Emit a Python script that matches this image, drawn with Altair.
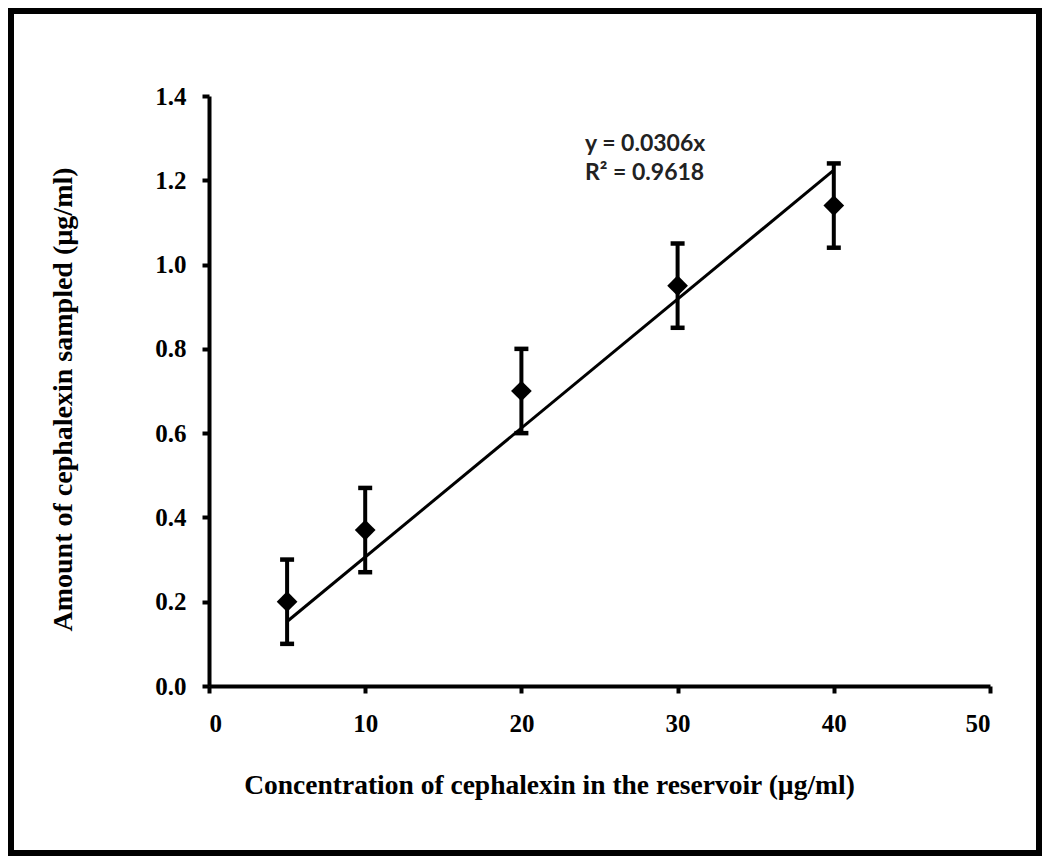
import altair as alt
import pandas as pd

# ---- data ----
conc = [5, 10, 20, 30, 40]
amount = [0.20, 0.37, 0.70, 0.95, 1.14]
err = [0.10, 0.10, 0.10, 0.10, 0.10]
trend_x = [5, 40]
slope = 0.0306
eq_lines = ["y = 0.0306x", "R² = 0.9618"]
x_ticks = [0, 10, 20, 30, 40, 50]
y_ticks = [0.0, 0.2, 0.4, 0.6, 0.8, 1.0, 1.2, 1.4]
x_title = "Concentration of cephalexin in the reservoir (µg/ml)"
y_title = "Amount of cephalexin sampled (µg/ml)"

df = pd.DataFrame({"conc": conc, "amount": amount, "err": err})
df["lo"] = df["amount"] - df["err"]
df["hi"] = df["amount"] + df["err"]
trend = pd.DataFrame({"conc": trend_x})

W, H = 781, 590
PL, PT, PR, PB = 201, 88, 52, 170

SERIF = "Liberation Serif"

xs = alt.Scale(domain=[0, 50], nice=False, zero=True)
ys = alt.Scale(domain=[0, 1.4], nice=False, zero=True)

x_axis = alt.Axis(values=x_ticks, title=x_title, format="d",
                  labelFontSize=25, labelPadding=18,
                  titleX=340, titleY=99, titleFontSize=27.5,
                  titleBaseline="middle", titleAlign="center")
y_axis = alt.Axis(values=y_ticks, title=y_title, format=".1f",
                  labelFontSize=25, labelPadding=16,
                  titleX=-146, titleY=303, titleFontSize=28,
                  titleAngle=-90, titleBaseline="middle", titleAlign="center")

base = alt.Chart(df)

bars = base.mark_rule(color="black", strokeWidth=4).encode(
    x=alt.X("conc:Q", scale=xs, axis=x_axis),
    y=alt.Y("lo:Q", scale=ys, axis=y_axis),
    y2="hi:Q",
)
cap_lo = base.mark_tick(color="black", thickness=4.5, size=14, orient="horizontal", opacity=1).encode(
    x="conc:Q", y="lo:Q")
cap_hi = base.mark_tick(color="black", thickness=4.5, size=14, orient="horizontal", opacity=1).encode(
    x="conc:Q", y="hi:Q")
pts = base.mark_point(shape="diamond", filled=True, color="black", size=430, opacity=1).encode(
    x="conc:Q", y="amount:Q")

line = alt.Chart(trend).transform_calculate(
    fit=f"datum.conc * {slope}"
).mark_line(color="black", strokeWidth=3).encode(x="conc:Q", y="fit:Q")

text_layers = []
for i, t in enumerate(eq_lines):
    text_layers.append(
        alt.Chart(pd.DataFrame({"line": [t]})).mark_text(
            align="left", baseline="middle", font="Lato", fontSize=23,
            fontWeight="bold", color="#222"
        ).encode(text="line:N", x=alt.value(376), y=alt.value(48 + 29 * i))
    )

border = alt.Chart(pd.DataFrame({"a": [0]})).mark_rect(
    fillOpacity=0, stroke="black", strokeWidth=6
).encode(
    x=alt.value(-PL + 3), x2=alt.value(W + PR - 3),
    y=alt.value(-PT + 3), y2=alt.value(H + PB - 3),
)

chart = alt.layer(bars, border, line, cap_lo, cap_hi, pts, *text_layers).properties(
    width=W, height=H,
    autosize=alt.AutoSizeParams(type="none"),
    padding={"left": PL, "top": PT, "right": PR, "bottom": PB},
    background="white",
).configure_view(stroke=None).configure_axis(
    grid=False,
    domainColor="black", domainWidth=4,
    tickColor="black", tickWidth=4, tickSize=7,
    labelFont=SERIF, labelFontWeight="bold", labelColor="black",
    titleFont=SERIF, titleFontWeight="bold", titleColor="black",
)

chart.save("out.html", embed_options={"renderer": "svg", "actions": False})
